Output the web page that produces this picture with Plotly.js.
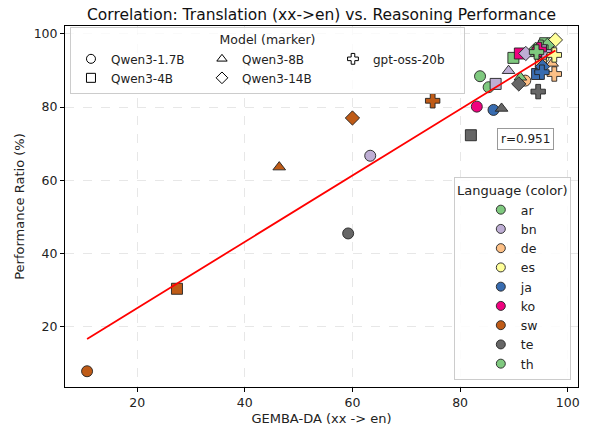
<!DOCTYPE html>
<html>
<head>
<meta charset="utf-8">
<script src="https://cdn.plot.ly/plotly-3.0.1.min.js"></script>
<style>html,body{margin:0;padding:0;background:#fff;}#chart{width:592px;height:427px;}</style>
</head>
<body>
<div id="chart"></div>
<script>
// ---- data ----
const languages = ['ar', 'bn', 'de', 'es', 'ja', 'ko', 'sw', 'te', 'th'];
const models = ['Qwen3-1.7B', 'Qwen3-4B', 'Qwen3-8B', 'Qwen3-14B', 'gpt-oss-20b'];

// GEMBA-DA (xx -> en), per model, in language order
const gembaQwen17 = [83.7, 63.3, 92.1, 95.5, 86.2, 83.1, 10.7, 59.2, 85.3];
const gembaQwen4  = [89.9, 86.6, 95.0, 96.3, 94.3, 91.1, 27.4, 82.0, 95.8];
const gembaQwen8  = [91.2, 89.0, 97.1, 96.8, 95.0, 93.8, 46.4, 87.7, 94.0];
const gembaQwen14 = [94.0, 92.2, 96.5, 97.7, 95.3, 94.5, 60.0, 90.9, 96.2];
const gembaGpt    = [95.0, 95.6, 97.5, 97.5, 95.2, 94.7, 74.9, 94.5, 94.2];

// Performance Ratio (%), per model, in language order
const perfQwen17 = [88.4, 66.7, 87.2, 93.5, 79.2, 80.1, 7.9, 45.5, 85.4];
const perfQwen4  = [93.4, 86.3, 91.9, 96.5, 89.0, 94.6, 30.4, 72.3, 97.4];
const perfQwen8  = [88.1, 89.9, 91.9, 95.0, 90.5, 95.0, 63.6, 79.6, 94.5];
const perfQwen14 = [95.7, 94.6, 95.5, 98.3, 91.0, 94.8, 77.0, 86.3, 96.8];
const perfGpt    = [96.3, 95.0, 89.0, 94.2, 89.5, 95.7, 81.7, 84.2, 95.0];

// fitted regression line end points and correlation
const fitX = [10.7, 97.7];
const fitY = [16.7, 95.4];
const corrR = 0.951;

// ---- styles ----
const langColors = ['#7fc97f', '#beaed4', '#fdc086', '#ffff99', '#386cb0', '#f0027f', '#bf5b17', '#666666', '#7fc97f'];
const modelSymbols = ['circle', 'square', 'triangle-up', 'diamond', 'cross'];
const modelSizes = [11, 11, 11, 11, 12];

const gembaAll = [gembaQwen17, gembaQwen4, gembaQwen8, gembaQwen14, gembaGpt];
const perfAll = [perfQwen17, perfQwen4, perfQwen8, perfQwen14, perfGpt];

const FONT = 'DejaVu Sans, Liberation Sans, sans-serif';
const traces = [];

// data points: one trace per model
models.forEach((m, i) => {
  traces.push({
    type: 'scatter', mode: 'markers', name: m,
    x: gembaAll[i], y: perfAll[i],
    text: languages,
    marker: {symbol: modelSymbols[i], size: modelSizes[i], color: langColors,
             line: {color: '#222', width: 0.9}},
    showlegend: false, hoverinfo: 'x+y+text'
  });
});

// regression line
traces.push({
  type: 'scatter', mode: 'lines', x: fitX, y: fitY,
  line: {color: 'red', width: 1.8}, showlegend: false, hoverinfo: 'skip'
});

// model legend (marker shapes), ordered for 3-column row-major wrapping
const modelLegendOrder = [0, 2, 4, 1, 3];
modelLegendOrder.forEach(i => {
  traces.push({
    type: 'scatter', mode: 'markers', name: models[i], x: [null], y: [null],
    marker: {symbol: modelSymbols[i], size: 9, color: 'white', line: {color: 'black', width: 1}},
    legend: 'legend', showlegend: true, hoverinfo: 'skip'
  });
});

// language legend (colors)
languages.forEach((l, i) => {
  traces.push({
    type: 'scatter', mode: 'markers', name: l, x: [null], y: [null],
    marker: {symbol: 'circle', size: 9, color: langColors[i], line: {color: '#222', width: 0.9}},
    legend: 'legend2', showlegend: true, hoverinfo: 'skip'
  });
});

const axisCommon = {
  showline: true, linecolor: 'black', linewidth: 1, mirror: true,
  ticks: 'outside', ticklen: 4, tickwidth: 1, tickcolor: 'black',
  showgrid: true, gridcolor: 'rgba(0,0,0,0.12)', griddash: 'dash', gridwidth: 0.8,
  zeroline: false, tickfont: {family: FONT, size: 12.5, color: '#222'},
  automargin: false
};

const layout = {
  width: 592, height: 427,
  margin: {l: 65, r: 14, t: 26, b: 40},
  paper_bgcolor: 'white', plot_bgcolor: 'white',
  font: {family: FONT, color: '#222'},
  title: {text: 'Correlation: Translation (xx->en) vs. Reasoning Performance',
          font: {family: FONT, size: 15.5, color: '#111'},
          xref: 'paper', x: 0.5, xanchor: 'center',
          yref: 'container', y: 0.967, yanchor: 'middle'},
  xaxis: Object.assign({}, axisCommon, {
    range: [6.6, 101.9], tick0: 0, dtick: 20,
    title: {text: 'GEMBA-DA (xx -> en)', font: {family: FONT, size: 13, color: '#222'}, standoff: 4}
  }),
  yaxis: Object.assign({}, axisCommon, {
    range: [3.6, 102.1], tick0: 0, dtick: 20,
    title: {text: 'Performance Ratio (%)', font: {family: FONT, size: 13, color: '#222'}, standoff: 6}
  }),
  legend: {
    orientation: 'h', x: 0.0097, xanchor: 'left', y: 0.997, yanchor: 'top',
    xref: 'paper', yref: 'paper',
    entrywidth: 86, entrywidthmode: 'pixels',
    bgcolor: 'rgba(255,255,255,0.8)', bordercolor: '#cccccc', borderwidth: 1,
    font: {family: FONT, size: 12, color: '#222'},
    title: {text: 'Model (marker)', side: 'top center', font: {family: FONT, size: 12.5, color: '#222'}},
    traceorder: 'normal', itemclick: false
  },
  legend2: {
    orientation: 'v', x: 0.986, xanchor: 'right', y: 0.019, yanchor: 'bottom',
    xref: 'paper', yref: 'paper', indentation: 26,
    bgcolor: 'rgba(255,255,255,0.85)', bordercolor: '#cccccc', borderwidth: 1,
    font: {family: FONT, size: 12.5, color: '#222'},
    title: {text: 'Language (color)', side: 'top center', font: {family: FONT, size: 13, color: '#222'}},
    traceorder: 'normal', itemclick: false
  },
  annotations: [{
    xref: 'paper', yref: 'paper', x: 0.897, y: 0.687, xanchor: 'center', yanchor: 'middle',
    text: 'r=' + corrR.toFixed(3), showarrow: false,
    font: {family: FONT, size: 12, color: '#222'},
    bgcolor: 'white', bordercolor: '#999999', borderwidth: 1, borderpad: 3
  }]
};

Plotly.newPlot('chart', traces, layout, {displayModeBar: false, staticPlot: true});
</script>
</body>
</html>
